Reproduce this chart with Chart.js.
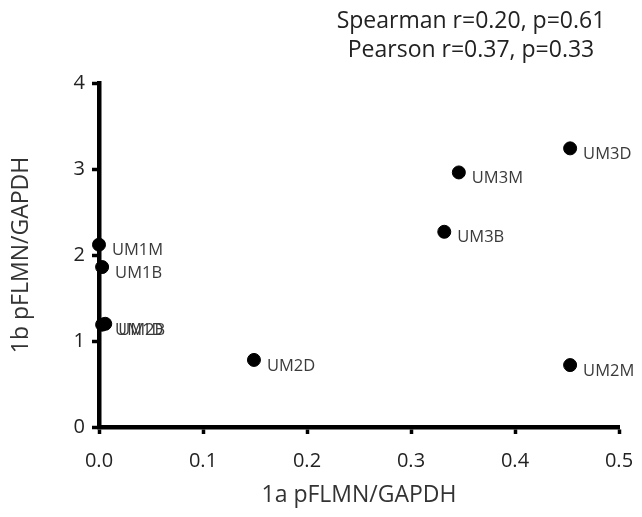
<!DOCTYPE html>
<html>
<head>
<meta charset="utf-8">
<script src="https://cdn.jsdelivr.net/npm/chart.js@4.4.1/dist/chart.umd.min.js"></script>
<style>
  html, body { margin: 0; padding: 0; background: #fff; }
  #wrap { width: 642px; height: 517px; }
</style>
</head>
<body>
<div id="wrap"><canvas id="c" width="642" height="517"></canvas></div>
<script>
// Sample names and their normalised pFLMN levels
const samples = ['UM1M', 'UM1B', 'UM1D', 'UM2B', 'UM2D', 'UM3B', 'UM3M', 'UM3D', 'UM2M'];
const pflmn1a = [0.000, 0.003, 0.003, 0.006, 0.149, 0.332, 0.346, 0.453, 0.453];
const pflmn1b = [2.12, 1.86, 1.19, 1.20, 0.78, 2.27, 2.96, 3.24, 0.72];

const xTicks = [0, 0.1, 0.2, 0.3, 0.4, 0.5];
const yTicks = [0, 1, 2, 3, 4];
const statLines = ['Spearman r=0.20, p=0.61', 'Pearson r=0.37, p=0.33'];

const FONT = '"Open Sans", Lato, sans-serif';

// Writes each sample name just to the right of its point
const pointLabels = {
  id: 'pointLabels',
  afterDatasetsDraw(chart) {
    const ctx = chart.ctx;
    const meta = chart.getDatasetMeta(0);
    ctx.save();
    ctx.font = '16.5px ' + FONT;
    ctx.fillStyle = '#3a3a3a';
    ctx.textAlign = 'left';
    ctx.textBaseline = 'middle';
    meta.data.forEach((pt, i) => {
      ctx.fillText(samples[i], pt.x + 13, pt.y + 6);
    });
    ctx.restore();
  }
};

// Correlation statistics above the plot
const statsText = {
  id: 'statsText',
  afterDraw(chart) {
    const ctx = chart.ctx;
    ctx.save();
    ctx.font = '23px ' + FONT;
    ctx.fillStyle = '#222';
    ctx.textAlign = 'center';
    ctx.textBaseline = 'middle';
    const cx = chart.chartArea.right - 148;
    statLines.forEach((t, i) => ctx.fillText(t, cx, 21 + i * 29));
    ctx.restore();
  }
};

new Chart(document.getElementById('c'), {
  type: 'scatter',
  data: {
    datasets: [{
      data: pflmn1a.map((x, i) => ({ x: x, y: pflmn1b[i] })),
      backgroundColor: '#000',
      borderColor: '#000',
      pointRadius: 6.5,
      pointHoverRadius: 6.5,
      clip: false
    }]
  },
  options: {
    responsive: false,
    animation: false,
    events: [],
    layout: { padding: { top: 83, right: 23, left: 0, bottom: 0 } },
    plugins: { legend: { display: false }, tooltip: { enabled: false } },
    scales: {
      x: {
        type: 'linear',
        min: 0, max: 0.5,
        afterFit(scale) {
          scale.height = 90;
          scale.paddingLeft = 0;
          scale.paddingRight = 10;
        },
        afterBuildTicks(scale) { scale.ticks = xTicks.map(v => ({ value: v })); },
        border: { display: true, color: '#000', width: 4.5 },
        grid: { drawOnChartArea: false, drawTicks: true, tickLength: 7, tickWidth: 3.5, tickColor: '#000', color: '#000' },
        ticks: {
          color: '#222', padding: 15,
          font: { family: FONT, size: 20 },
          callback: v => v.toFixed(1)
        },
        title: {
          display: true, text: '1a pFLMN/GAPDH', color: '#333',
          font: { family: FONT, size: 23 },
          padding: { top: 0, bottom: 8 }
        }
      },
      y: {
        type: 'linear',
        min: 0, max: 4,
        afterFit(scale) { scale.width = 99; },
        afterBuildTicks(scale) { scale.ticks = yTicks.map(v => ({ value: v })); },
        border: { display: true, color: '#000', width: 4.5 },
        grid: { drawOnChartArea: false, drawTicks: true, tickLength: 7, tickWidth: 3.5, tickColor: '#000', color: '#000' },
        ticks: {
          color: '#222', padding: 7,
          font: { family: FONT, size: 20 },
          callback: v => String(v)
        },
        title: {
          display: true, text: '1b pFLMN/GAPDH', color: '#333',
          font: { family: FONT, size: 23 },
          padding: { top: 8, bottom: 0 }
        }
      }
    }
  },
  plugins: [pointLabels, statsText]
});
</script>
</body>
</html>
